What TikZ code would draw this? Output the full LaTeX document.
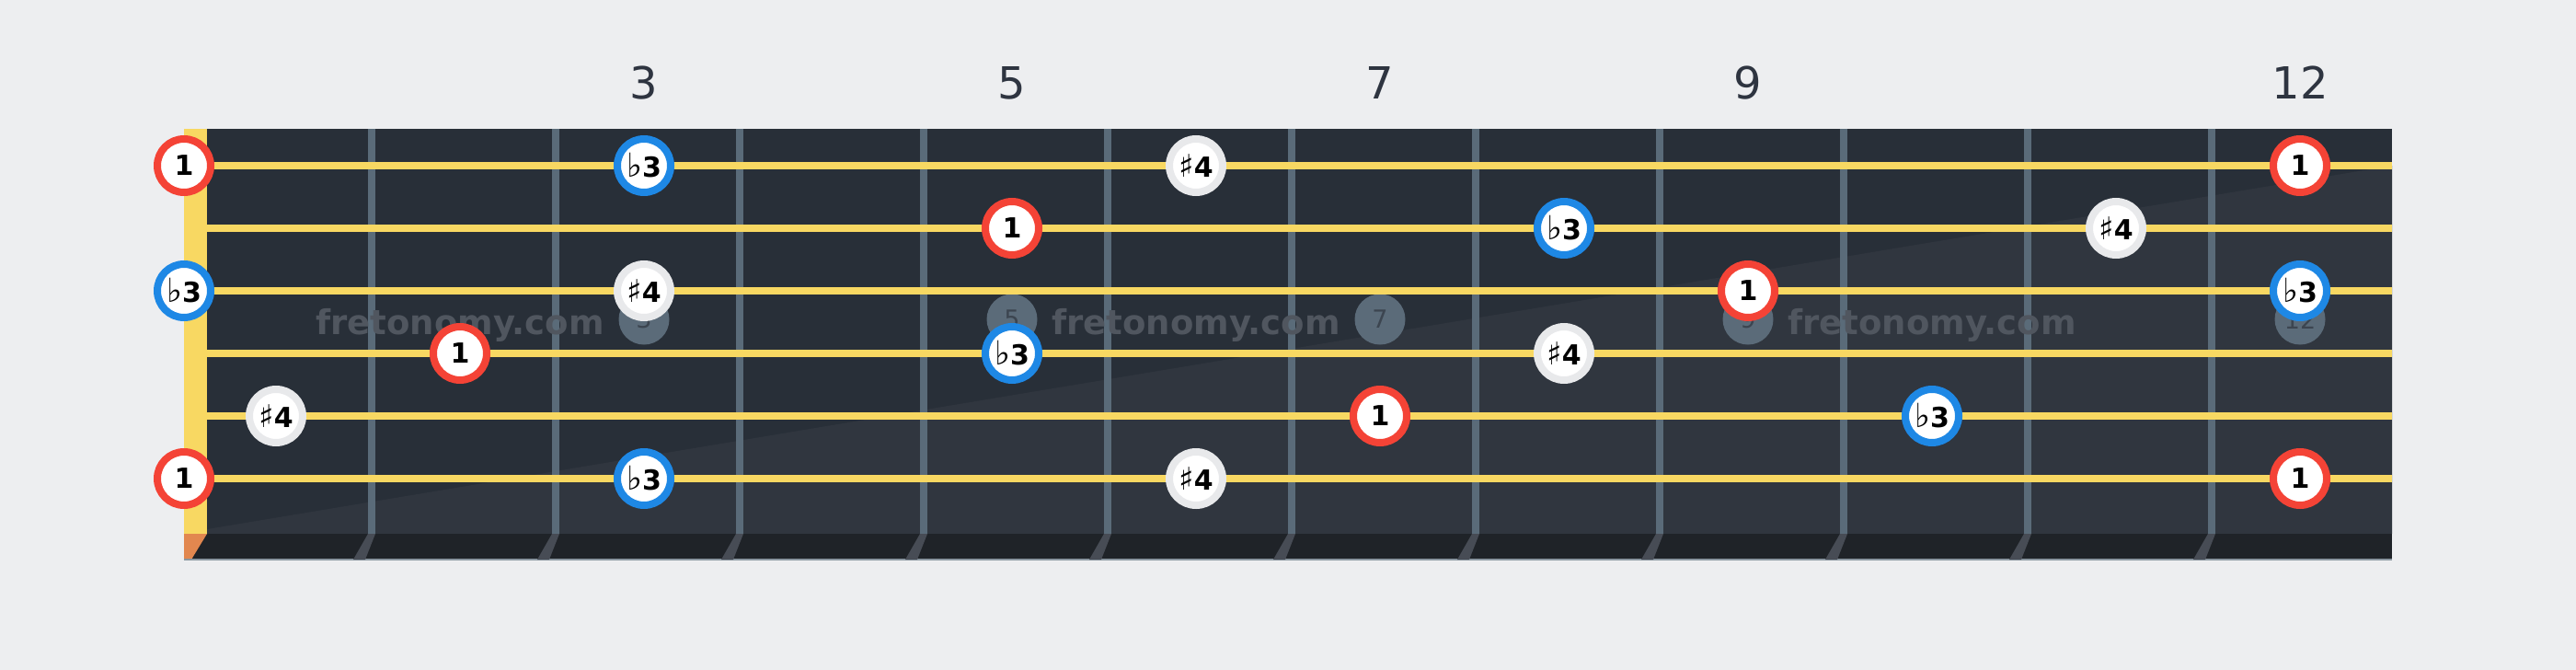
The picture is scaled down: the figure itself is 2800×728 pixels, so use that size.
\documentclass[tikz,border=0pt]{standalone}
\usepackage{fontspec}
\setmainfont{DejaVu Sans}
\definecolor{bgcol}{HTML}{EDEEF0}
\definecolor{boardtop}{HTML}{282F38}
\definecolor{boardlow}{HTML}{30363F}
\definecolor{stripcol}{HTML}{1F2328}
\definecolor{stringcol}{HTML}{F8D862}
\definecolor{nutedge}{HTML}{E2874F}
\definecolor{fretcol}{HTML}{5A6B79}
\definecolor{fretshade}{HTML}{474C55}
\definecolor{markcol}{HTML}{5B6B79}
\definecolor{marktext}{HTML}{3C4550}
\definecolor{wmcol}{HTML}{50565F}
\definecolor{labelcol}{HTML}{2E3440}
\definecolor{ringred}{HTML}{F44336}
\definecolor{ringblue}{HTML}{1E88E5}
\definecolor{ringgray}{HTML}{E8E9EB}
\newcommand{\acfl}{{\mdseries\fontsize{36}{36}\selectfont ♭}}
\newcommand{\acsh}{{\mdseries\fontsize{34}{34}\selectfont ♯}}

\begin{document}
\begin{tikzpicture}[x=1pt,y=-1pt,
	note/.style={circle,draw,line width=8pt,fill=white,minimum size=58pt,inner sep=0pt,text=black,font=\fontsize{30}{30}\selectfont\bfseries},
	rootnote/.style={note,draw=ringred},
	thirdnote/.style={note,draw=ringblue},
	fourthnote/.style={note,draw=ringgray},
	fretnum/.style={anchor=base,text=labelcol,font=\fontsize{48}{48}\selectfont},
	marker/.style={circle,fill=markcol,minimum size=55pt,inner sep=0pt,text=marktext,font=\fontsize{27}{27}\selectfont},
	wmark/.style={anchor=base,text=wmcol,font=\fontsize{37}{37}\selectfont\bfseries},
	fret/.style={draw=fretcol,line width=8pt},
	guitarstring/.style={draw=stringcol,line width=8pt}]
	\useasboundingbox[fill=bgcol] (0,0) rectangle (2800,728);
	\fill[boardtop] (225,140) rectangle (2600,580);
	\fill[boardlow] (225,575) -- (2600,180) -- (2600,580) -- (225,580) -- cycle;
	\fill[stringcol] (200,140) rectangle (225,580);
	\fill[stripcol] (200,580) rectangle (2600,608);
	\fill[nutedge] (200,580) -- (225,580) -- (208,608) -- (200,608) -- cycle;
	\draw[color=fretcol!70,line width=2pt] (200,608) -- (2600,608);
	\foreach \f in {1,...,11} {
		\draw[fret] ({204+200*\f},140) -- ({204+200*\f},580);
		\fill[fretshade] ({200+200*\f},580) -- ++(8,0) -- ++(-11,28) -- ++(-13,0) -- cycle;
	}
	\foreach \f in {3,5,7,9,12} {
		\node[fretnum] (top\f) at ({100+200*\f},107) {\f};
		\node[marker] (mk\f) at ({100+200*\f},347) {\f};
	}
	\foreach \w [count=\i] in {500,1300,2100}
		\node[wmark] (wm\i) at (\w,363) {fretonomy.com};
	\foreach \s in {0,...,5}
		\draw[guitarstring] (200,{180+68*\s}) -- (2600,{180+68*\s});
	\foreach \s/\f/\k/\t in {
		0/0/rootnote/1, 0/3/thirdnote/\acfl3, 0/6/fourthnote/\acsh4, 0/12/rootnote/1,
		1/5/rootnote/1, 1/8/thirdnote/\acfl3, 1/11/fourthnote/\acsh4,
		2/0/thirdnote/\acfl3, 2/3/fourthnote/\acsh4, 2/9/rootnote/1, 2/12/thirdnote/\acfl3,
		3/2/rootnote/1, 3/5/thirdnote/\acfl3, 3/8/fourthnote/\acsh4,
		4/1/fourthnote/\acsh4, 4/7/rootnote/1, 4/10/thirdnote/\acfl3,
		5/0/rootnote/1, 5/3/thirdnote/\acfl3, 5/6/fourthnote/\acsh4, 5/12/rootnote/1} {
		\pgfmathsetmacro{\nx}{ifthenelse(\f==0,200,100+200*\f)}
		\node[\k] (n\s-\f) at (\nx,{180+68*\s}) {\t};
	}
\end{tikzpicture}
\end{document}
